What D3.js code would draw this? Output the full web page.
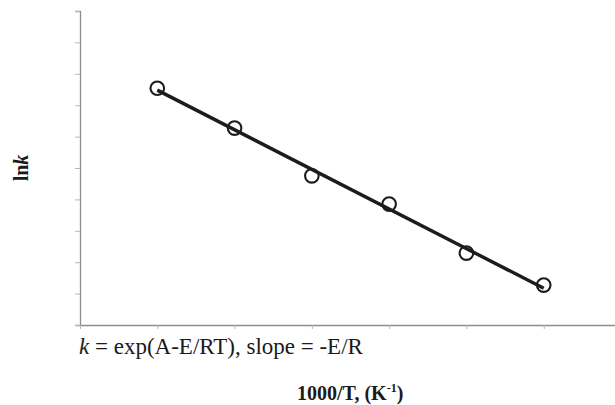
<!DOCTYPE html>
<html>
<head>
<meta charset="utf-8">
<script src="https://cdn.jsdelivr.net/npm/d3@7"></script>
<style>
  html, body { margin: 0; padding: 0; background: #fff; }
  svg { display: block; }
</style>
</head>
<body>
<svg id="chart" width="615" height="405"></svg>
<script>
// Data
const xValues = [1, 2, 3, 4, 5, 6];               // 1000/T
const lnkValues = [7.54, 6.27, 4.75, 3.85, 2.29, 1.27];
const fitX = [1, 6];                               // straight-line fit
const fitY = [7.48, 1.17];
const xTicks = [0, 1, 2, 3, 4, 5, 6, 7];
const yTicks = [0, 1, 2, 3, 4, 5, 6, 7, 8, 9, 10];

const svg = d3.select("#chart");
const x = d3.scaleLinear().domain([0, 7]).range([80, 621]);
const y = d3.scaleLinear().domain([0, 10]).range([325, 11]);

const axisColor = "#8a8f8c";

// y axis
const gy = svg.append("g").attr("transform", "translate(80,0)")
  .call(d3.axisLeft(y).tickValues(yTicks).tickSize(5).tickFormat(""));
gy.select(".domain").attr("stroke", axisColor).attr("stroke-width", 1.3);
gy.selectAll(".tick line").attr("stroke", "#b5b8b6").attr("stroke-width", 1);

// x axis
const gx = svg.append("g").attr("transform", "translate(0,325)")
  .call(d3.axisBottom(x).tickValues(xTicks).tickSize(4).tickSizeOuter(0).tickFormat(""));
gx.select(".domain").attr("stroke", axisColor).attr("stroke-width", 1.3);
gx.selectAll(".tick line").attr("stroke", "#b5b8b6").attr("stroke-width", 1);

// fit line
const fit = fitX.map((d, i) => [d, fitY[i]]);
svg.append("path")
  .datum(fit)
  .attr("fill", "none")
  .attr("stroke", "#1c1c1c")
  .attr("stroke-width", 3.4)
  .attr("d", d3.line().x(d => x(d[0])).y(d => y(d[1])));

// points
svg.selectAll("circle.pt")
  .data(xValues.map((d, i) => [d, lnkValues[i]]))
  .enter().append("circle")
  .attr("class", "pt")
  .attr("cx", d => x(d[0]))
  .attr("cy", d => y(d[1]))
  .attr("r", 6.8)
  .attr("fill", "none")
  .attr("stroke", "#1c1c1c")
  .attr("stroke-width", 2.1);

// y label
const yl = svg.append("text")
  .attr("transform", "translate(28,168) rotate(-90)")
  .attr("text-anchor", "middle")
  .attr("font-family", "Liberation Serif, serif")
  .attr("font-weight", "bold")
  .attr("font-size", 20)
  .attr("fill", "#1a1a1a");
yl.append("tspan").text("ln");
yl.append("tspan").attr("font-style", "italic").text("k");

// equation
const eq = svg.append("text")
  .attr("x", 79).attr("y", 354)
  .attr("font-family", "Liberation Serif, serif")
  .attr("font-size", 23)
  .attr("fill", "#1a1a1a");
eq.append("tspan").attr("font-style", "italic").text("k");
eq.append("tspan").text(" = exp(A-E/RT), slope = -E/R");

// x label
const xl = svg.append("text")
  .attr("x", 297).attr("y", 400)
  .attr("font-family", "Liberation Serif, serif")
  .attr("font-weight", "bold")
  .attr("font-size", 20)
  .attr("fill", "#1a1a1a");
xl.append("tspan").text("1000/T, (K");
xl.append("tspan").attr("font-size", 12).attr("dy", -8).text("-1");
xl.append("tspan").attr("dy", 8).text(")");
</script>
</body>
</html>
